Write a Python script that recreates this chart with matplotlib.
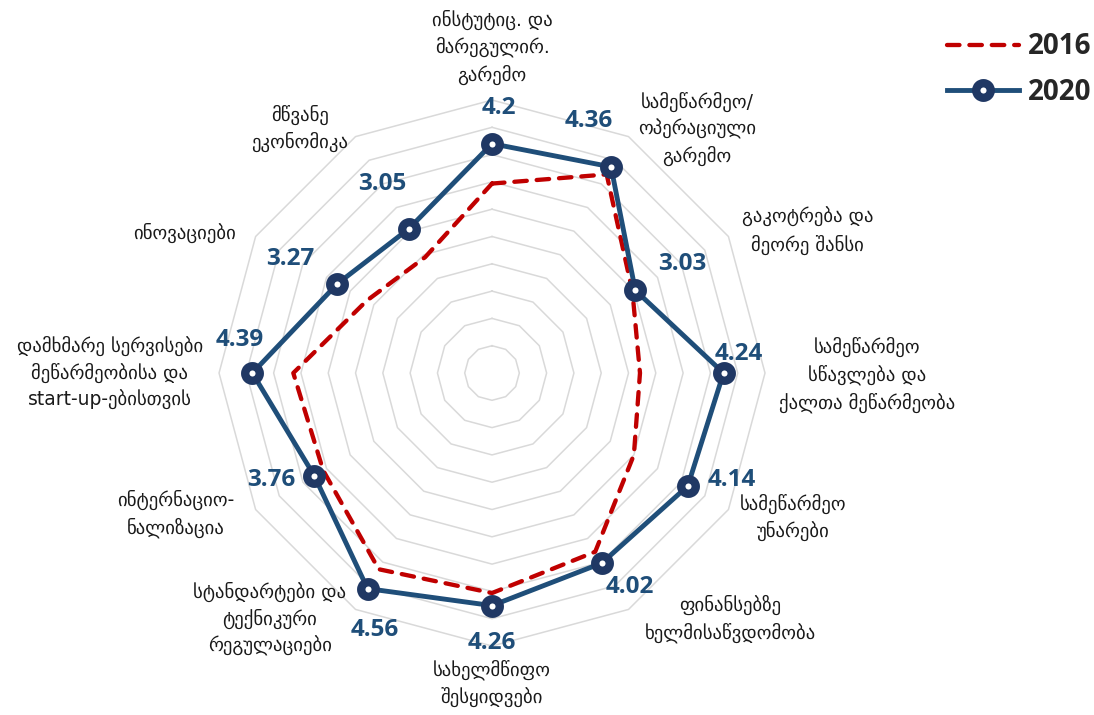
import numpy as np
import matplotlib
matplotlib.use("Agg")
import matplotlib.pyplot as plt

# ── Data ──
categories = [
    "ინსტუტიც. და\nმარეგულირ.\nგარემო",
    "სამეწარმეო/\nოპერაციული\nგარემო",
    "გაკოტრება და\nმეორე შანსი",
    "სამეწარმეო\nსწავლება და\nქალთა მეწარმეობა",
    "სამეწარმეო\nუნარები",
    "ფინანსებზე\nხელმისაწვდომობა",
    "სახელმწიფო\nშესყიდვები",
    "სტანდარტები და\nტექნიკური\nრეგულაციები",
    "ინტერნაციო-\nნალიზაცია",
    "დამხმარე სერვისები\nმეწარმეობისა და\nstart-up-ებისთვის",
    "ინოვაციები",
    "მწვანე\nეკონომიკა",
]
values_2016 = [3.47, 4.2, 2.97, 2.71, 3.0, 3.78, 4.03, 4.15, 3.57, 3.64, 2.65, 2.45]
values_2020 = [4.2, 4.36, 3.03, 4.24, 4.14, 4.02, 4.26, 4.56, 3.76, 4.39, 3.27, 3.05]
series_labels = ["2016", "2020"]
grid_levels = np.arange(0.5, 5.01, 0.5)

# ── Layout (label placement) ──
# category label centres as (angle deg clockwise from top, radius)
cat_label_pos = [(0, 5.97), (40.0, 5.84), (65.8, 6.34), (90.3, 6.87), (115.6, 6.11),
                 (135.9, 6.27), (180, 5.68), (222.1, 6.07), (246.0, 6.35), (270, 7.0),
                 (294.5, 6.18), (321.9, 5.70)]
# value label offsets from marker, in points
val_offsets = [(5, 26), (-16, 33), (34, 19), (11, 14), (32, 4), (20, -17),
               (0, -27), (5, -30), (-31, -3), (-9, 24), (-34, 18), (-19, 32)]

BLUE = "#1F4E79"
NAVY = "#203864"
RED = "#C00000"
GRID = "#D9D9D9"

n = len(categories)
angles = np.linspace(0, 2 * np.pi, n, endpoint=False)
closed = np.append(angles, angles[0])

fig = plt.figure(figsize=(10.94, 7.15), dpi=100)
ax = fig.add_axes([0.2002, 0.0965, 0.4991, 0.7636], projection="polar")
ax.set_theta_offset(np.pi / 2)
ax.set_theta_direction(-1)
ax.set_ylim(0, 5)
ax.grid(False)
ax.set_xticks([])
ax.set_yticks([])
ax.spines["polar"].set_visible(False)
ax.patch.set_alpha(0)

# ── Polygon grid rings ──
for lvl in grid_levels:
    ax.plot(closed, [lvl] * (n + 1), color=GRID, lw=1.1, zorder=1, clip_on=False)

# ── Series ──
r16 = np.append(values_2016, values_2016[0])
r20 = np.append(values_2020, values_2020[0])
ax.plot(closed, r16, color=RED, lw=3.1, ls=(0, (2.9, 2.3)), dash_capstyle="round",
        zorder=3, label=series_labels[0], clip_on=False)
ax.plot(closed, r20, color=BLUE, lw=3.5, zorder=4, clip_on=False)
ax.plot(angles, values_2020, ls="none", marker="o", ms=10.5, mew=6,
        mfc="white", mec=NAVY, zorder=5, clip_on=False)

# legend proxy for 2020 (line + marker)
ax.plot([], [], color=BLUE, lw=3.5, marker="o", ms=10.5, mew=6, mfc="white",
        mec=NAVY, label=series_labels[1])

# ── Value labels ──
for a, v, off in zip(angles, values_2020, val_offsets):
    ax.annotate(f"{v:g}", xy=(a, v), xytext=off, textcoords="offset points",
                ha="center", va="center", fontsize=17.5, fontweight="bold",
                color=BLUE, family=["Open Sans", "DejaVu Sans"], zorder=6)

# ── Category labels ──
for lab, (deg, rad) in zip(categories, cat_label_pos):
    ax.text(np.deg2rad(deg), rad, lab, ha="center", va="center", fontsize=13.5,
            color="#1a1a1a", family=["DejaVu Sans"], linespacing=1.45,
            clip_on=False)

leg = fig.legend(loc="upper right", bbox_to_anchor=(1.010, 0.974), frameon=False,
                 borderpad=0, handlelength=2.6, handletextpad=0.3, labelspacing=0.6,
                 prop={"family": "Open Sans", "weight": "bold", "size": 20})
for t in leg.get_texts():
    t.set_color("#262626")

fig.savefig("out.png", dpi=100)
